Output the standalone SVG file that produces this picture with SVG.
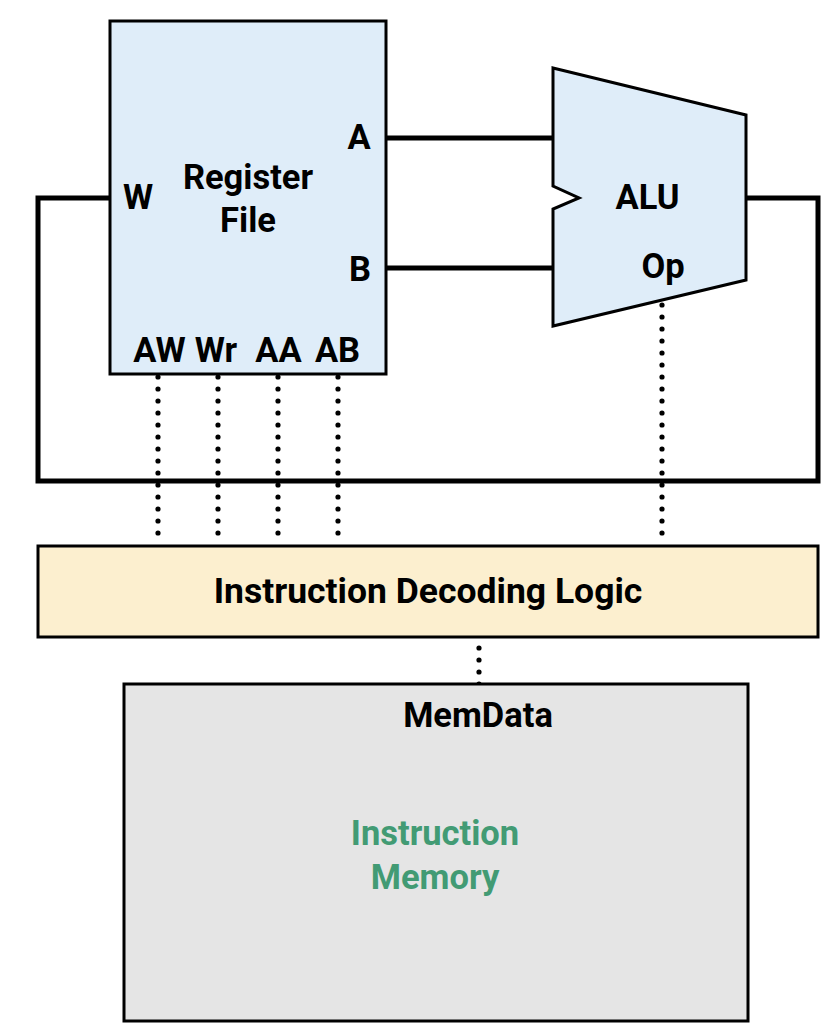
<svg xmlns="http://www.w3.org/2000/svg" width="838" height="1032" viewBox="0 0 838 1032">
<style>
.lbl{font-family:Roboto,"Liberation Sans",sans-serif;font-weight:bold;font-size:34.5px;fill:#000;text-anchor:middle}
.wire{fill:none;stroke:#000;stroke-width:5;stroke-linejoin:miter}
.dots{fill:none;stroke:#000;stroke-width:5.2;stroke-linecap:round;stroke-dasharray:0 12}
.box{stroke:#000;stroke-width:3}
</style>
<rect width="838" height="1032" fill="#fff"/>
<g id="connectors">
<polyline class="wire" points="746,198 818,198 818,481 38,481 38,198 110,198"/>
<line class="wire" x1="386" y1="138" x2="555" y2="138"/>
<line class="wire" x1="386" y1="268" x2="555" y2="268"/>
<line class="dots" x1="158" y1="377" x2="158" y2="534"/>
<line class="dots" x1="218" y1="377" x2="218" y2="534"/>
<line class="dots" x1="278" y1="377" x2="278" y2="534"/>
<line class="dots" x1="338" y1="377" x2="338" y2="534"/>
<line class="dots" x1="662" y1="305" x2="662" y2="534"/>
<line class="dots" x1="479" y1="648" x2="479" y2="685"/>
</g>
<g id="register-file">
<rect class="box" x="110" y="21" width="276" height="353" fill="#dfedf9"/>
<text class="lbl" x="248" y="189">Register</text>
<text class="lbl" x="248" y="232">File</text>
<text class="lbl" x="138" y="209">W</text>
<text class="lbl" x="359" y="149">A</text>
<text class="lbl" x="360" y="281">B</text>
<text class="lbl" x="159.5" y="362">AW</text>
<text class="lbl" x="216" y="362">Wr</text>
<text class="lbl" x="278.5" y="362">AA</text>
<text class="lbl" x="337.5" y="362">AB</text>
</g>
<g id="alu">
<polygon class="box" points="553,68 746,115 746,280 553,326 553,209 579,198 553,186" fill="#dfedf9"/>
<text class="lbl" x="647.5" y="209">ALU</text>
<text class="lbl" x="663" y="278">Op</text>
</g>
<g id="decoding-logic">
<rect class="box" x="38" y="546" width="780" height="91" fill="#fcefcf"/>
<text class="lbl" x="428" y="603" style="font-size:35.5px">Instruction Decoding Logic</text>
</g>
<g id="instruction-memory">
<rect class="box" x="124" y="684" width="624" height="337" fill="#e5e5e5"/>
<text class="lbl" x="478" y="727">MemData</text>
<text class="lbl" x="435" y="845" style="fill:#429b74">Instruction</text>
<text class="lbl" x="435" y="889" style="fill:#429b74">Memory</text>
</g>
</svg>
